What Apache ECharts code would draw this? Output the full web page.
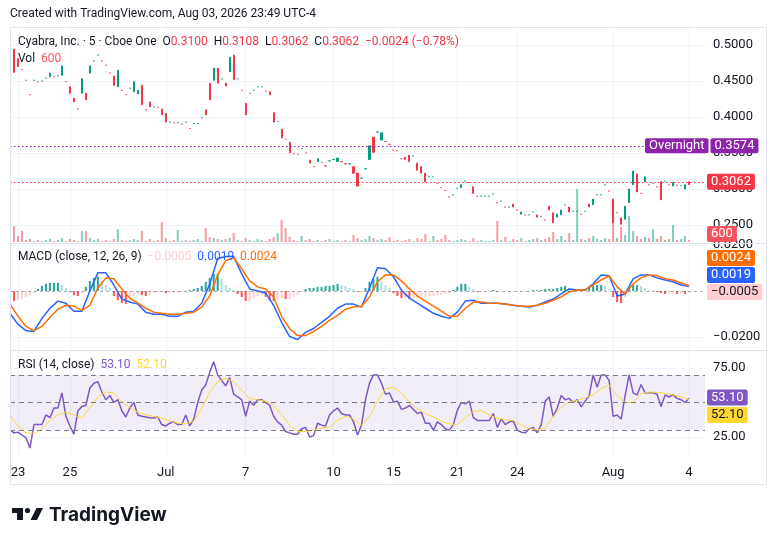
<!DOCTYPE html>
<html><head><meta charset="utf-8">
<script src="https://cdn.jsdelivr.net/npm/echarts@6/dist/echarts.min.js"></script>
<style>html,body{margin:0;padding:0;background:#fff}#c{width:776px;height:546px}</style>
</head><body><div id="c"></div>
<script>
// ---------- data ----------
const dateLabels = ['23','25','Jul','7','10','15','21','24','Aug','4'];
const dateBars   = [2,15,39,59,81,96,112,127,151,170];   // bar index where each date label sits

// 5-minute bars (bar 1..170)
const opens = [
 .494,.481,.466,.451,.431,.451,.449,.450,.454,.456,
 .456,.457,.458,.449,.442,.426,.411,.433,.433,.461,
 .478,.486,.478,.472,.461,.457,.442,.437,.431,.440,
 .435,.432,.444,.410,.421,.414,.413,.411,.405,.393,
 .392,.392,.390,.393,.384,.391,.391,.399,.410,.447,
 .451,.468,.453,.447,.463,.486,.453,.437,.419,.433,
 .437,.442,.442,.436,.435,.406,.394,.383,.369,.365,
 .349,.348,.356,.350,.340,.331,.338,.337,.332,.339,
 .341,.338,.338,.335,.335,.331,.322,.315,.328,.341,
 .372,.379,.368,.366,.362,.354,.353,.342,.344,.347,
 .346,.336,.331,.322,.317,.317,.308,.302,.298,.289,
 .292,.301,.302,.311,.309,.303,.290,.290,.290,.290,
 .293,.281,.283,.275,.275,.279,.271,.265,.264,.264,
 .268,.264,.262,.257,.276,.267,.261,.264,.278,.275,
 .269,.269,.265,.269,.279,.278,.292,.292,.306,.297,
 .286,.267,.260,.258,.281,.306,.321,.294,.310,.306,
 .308,.303,.310,.311,.306,.304,.305,.305,.300,.3100];
const closes = [
 .462,.470,.466,.451,.431,.451,.449,.450,.454,.461,
 .456,.457,.471,.449,.433,.421,.411,.453,.424,.471,
 .478,.486,.478,.472,.461,.444,.465,.437,.431,.440,
 .449,.437,.417,.410,.414,.414,.413,.403,.393,.393,
 .392,.392,.390,.393,.384,.391,.391,.399,.403,.424,
 .468,.447,.453,.443,.483,.452,.453,.437,.403,.433,
 .437,.442,.442,.436,.431,.393,.394,.371,.369,.350,
 .349,.348,.356,.350,.336,.331,.342,.337,.332,.339,
 .341,.343,.338,.335,.335,.322,.304,.315,.328,.360,
 .351,.379,.378,.366,.362,.354,.353,.342,.341,.338,
 .346,.326,.322,.310,.317,.317,.308,.302,.298,.289,
 .292,.301,.306,.311,.309,.294,.290,.290,.290,.290,
 .293,.281,.283,.275,.275,.275,.271,.268,.264,.264,
 .268,.261,.262,.257,.271,.253,.265,.271,.278,.268,
 .269,.269,.265,.269,.275,.286,.292,.292,.306,.297,
 .253,.267,.251,.276,.300,.325,.296,.294,.317,.306,
 .308,.303,.285,.311,.306,.309,.305,.305,.306,.3062];
const volumes = [
 4800,1800,3300,600,900,300,600,300,600,900,
 300,600,1200,300,900,600,300,3300,3300,1200,
 600,900,300,600,300,900,3900,600,300,600,
 900,600,3300,300,900,300,600,6000,1200,300,
 600,3600,300,600,300,600,900,300,4200,1500,
 1200,900,600,900,1200,2700,600,300,1200,600,
 300,900,600,300,900,1500,2700,6600,4200,1500,
 600,300,1800,600,900,300,600,300,600,900,
 300,600,300,600,300,2100,1200,600,900,1800,
 1200,600,900,600,1500,300,600,300,600,900,
 300,1200,900,2400,300,1800,600,900,2100,600,
 300,600,900,600,300,1200,300,600,300,300,
 600,6300,600,1500,300,900,600,1200,300,600,
 900,1200,600,900,1500,3000,900,1800,600,2700,
 600,15900,900,600,1200,1800,900,600,1200,900,
 12900,1200,4500,2100,7800,3300,1800,900,1500,1200,
 3900,900,1800,600,900,5100,600,900,1800,600];

// MACD (12,26,9): lines read every 2nd bar (bar 0,2,4..170), histogram per bar (1..170)
const macdLine = [
 -.0097,-.0145,-.0172,-.0176,-.0119,-.0075,-.0044,-.0053,-.0088,-.0088,
 0,.0079,.0079,.0026,-.0035,-.0048,-.0057,-.0092,-.0101,-.0101,
 -.011,-.011,-.0092,-.0088,-.0053,.0031,.0141,.015,.015,.0075,
 .0009,0,-.0009,-.0062,-.0136,-.0198,-.0211,-.018,-.0163,-.0136,
 -.011,-.0075,-.0057,-.0057,-.007,.0013,.0101,.0097,.0062,.0004,
 -.0031,-.0053,-.0075,-.0097,-.011,-.0119,-.0092,-.0044,-.004,-.0053,
 -.0053,-.0053,-.0057,-.0062,-.0066,-.007,-.0062,-.0048,-.0035,-.0013,
 .0009,.0004,.0004,.0031,.007,.0066,-.0022,-.0013,.0053,.007,
 .007,.0057,.0048,.004,.0026,.0019];
const signalLine = [
 -.0057,-.011,-.0154,-.0172,-.0154,-.0114,-.0079,-.0062,-.0066,-.0084,
 -.0062,.0013,.0057,.0053,.0009,-.0031,-.0053,-.0075,-.0092,-.0097,
 -.0101,-.0101,-.0097,-.0092,-.007,-.0022,.007,.0132,.0145,.0097,
 .0044,.0018,.0009,-.0026,-.011,-.0163,-.0194,-.0194,-.0176,-.0154,
 -.0128,-.0106,-.0079,-.007,-.0066,-.0026,.004,.007,.007,.0044,
 .0009,-.0022,-.0044,-.0066,-.0088,-.011,-.011,-.0075,-.0048,-.0048,
 -.0053,-.0053,-.0057,-.0062,-.0066,-.0066,-.0062,-.0053,-.004,-.0026,
 -.0004,.0004,.0004,.0026,.0048,.0066,.0018,-.0013,.0031,.0057,
 .007,.0066,.0053,.0048,.0035,.0024];
const macdHist = [
 -.0044,-.004,-.0035,-.0026,-.0018,-.0009,.0009,.0022,.0031,.0035,
 .0035,.0035,.0026,.0013,-.0004,-.0018,-.0022,-.0009,.0018,.0044,
 .0057,.0062,.0044,.0026,.0013,-.0022,-.004,-.0053,-.0057,-.004,
 -.0022,-.0013,-.0018,-.0022,-.0018,-.0009,-.0004,-.0004,-.0009,-.0009,
 -.0009,-.0009,-.0004,.0001,.0004,.0009,.0013,.0022,.004,.0057,
 .0075,.0075,.0053,.0026,.0013,.0004,-.0013,-.0026,-.0044,-.0044,
 -.0031,-.0022,-.0018,-.0026,-.004,-.0044,-.0035,-.0031,-.0035,-.0035,
 -.0026,-.0018,-.0004,.0009,.0013,.0013,.0018,.0018,.0022,.0022,
 .0026,.0031,.0026,.0022,.0013,.0009,-.0004,-.0004,.0013,.004,
 .0053,.0062,.0044,.0026,.0013,-.0009,-.0022,-.0031,-.0031,-.0035,
 -.0031,-.0031,-.0026,-.0026,-.0022,-.0022,-.0018,-.0018,-.0013,-.0009,
 .0004,.0018,.0031,.0031,.0018,.0009,-.0004,-.0004,-.0004,.0001,
 .0004,-.0004,-.0004,.0001,-.0004,-.0004,-.0004,-.0004,-.0004,-.0004,
 .0004,.0004,.0004,.0009,.0009,.0009,.0013,.0018,.0022,.0013,
 .0004,.0001,.0004,.0009,.0013,.0022,.0026,.0026,.0022,.0009,
 -.0026,-.0048,-.0053,-.0026,.0009,.0026,.0026,.0022,.0013,.0004,
 .0001,-.0004,-.0009,-.0013,-.0009,-.0009,-.0013,-.0009,-.0013,-.0005];

// RSI(14) per bar 0..170, its moving average every 2nd bar
const rsiLine = [
 30,28,28.5,26.4,24.5,17,34,34,34,41,
 39,46,46,57,40,33,27,44,47,48,
 60.5,64,65,57.6,52,55,50,52,44,39.5,
 46,50,41,40,39.5,39,38.7,39.5,34,33,
 35,36,34,34,41,33,38,50,59,62.7,
 72,79.5,70,66,62,68,56,54,52,40,
 51,48,52,52,50,48,40,36,33.6,29,
 28,27,27,31,32,25,26,35,33.6,33,
 41,44,46,42,41,41,36,26.4,33.6,52,
 64,70,70,64,56,57,50.4,51,45,46,
 48,45,42,43,35,35,30,36,34,31,
 30,34,44.5,50,49,51,39,37,37,37,
 37,42,32,38,34,36,36.5,30,28.5,28,
 31,32,28,34,51,54,40,46,55,52,
 53,50,52,47,51,55,70,61,70,70,
 66,40,41,38,55,70,57,55.5,63,57,
 57,57,56,47,55.5,54,55.5,53,52,50,
 53.1];
const rsiMa = [
 41,33,28,27.5,31,37,41,43,41,38.7,
 46,54,57.6,57,50.4,46.5,43,41,40,38.5,
 36.5,35,34.5,36.5,46,57.6,65,67.5,65,59,
 53,52,51,48,41,33.6,29,28.8,30,31.5,
 32.2,37,40,38,33.5,40,51,60,61,57,
 50,45.5,42,39.5,36.5,34.5,34,39,43.5,44,
 41,38.5,37.5,37,33.5,31,30,31.5,40,46.5,
 50.5,51.5,53.5,55.5,60,62.7,55,50,50,56.5,
 57.5,57.5,56.5,55.5,54,52.1];

const lastBar = {o:0.3100, h:0.3108, l:0.3062, c:0.3062};
const change = -0.0024, changePct = -0.78;
const overnightPrice = 0.3574;
const lastVolume = 600;

// ---------- chart ----------
const FONT = 'Roboto';
const UP = '#089981', DOWN = '#F23645';
const NCAT = 175;
const cats = Array.from({length: NCAT}, (_, i) => String(i));
const labelAt = {};
dateBars.forEach((b, k) => labelAt[b] = dateLabels[k]);
const isDate = (i) => labelAt[i] !== undefined;
const m = (v) => (v < 0 ? '\u2212' : '') + Math.abs(v).toFixed(4);

function sign(k) {
  const o = opens[k], c = closes[k];
  if (c > o) return 1;
  if (c < o) return -1;
  return k > 0 && closes[k - 1] <= c ? 1 : -1;
}
const candleData = ['-'].concat(opens.map((o, k) => [o, closes[k], Math.min(o, closes[k]), Math.max(o, closes[k])]));
const volData = ['-'].concat(volumes.map((v, k) => ({value: v, itemStyle: {color: sign(k) > 0 ? 'rgba(8,153,129,0.5)' : 'rgba(242,54,69,0.5)'}})));
const histData = ['-'].concat(macdHist.map((v, k) => {
  const p = k > 0 ? macdHist[k - 1] : 0;
  const col = v >= 0 ? (v >= p ? '#26A69A' : '#B2DFDB') : (v < p ? '#FF5252' : '#FFCDD2');
  return {value: v, itemStyle: {color: col}};
}));
const every2 = (arr) => arr.map((v, k) => [String(2 * k), v]);

function xa(gi, extra) {
  return Object.assign({type: 'category', gridIndex: gi, data: cats, boundaryGap: false, show: false}, extra || {});
}
const gridL = 10, gridR = 71;

const option = {
  animation: false,
  textStyle: {fontFamily: FONT},
  grid: [
    {left: gridL, right: gridR, top: 27, bottom: 88},
    {left: gridL, right: gridR, top: 45, bottom: 321},
    {left: gridL, right: gridR, top: 142, bottom: 304},
    {left: gridL, right: gridR, top: 245, bottom: 209},
    {left: gridL, right: gridR, top: 368, bottom: 109}
  ],
  xAxis: [
    xa(0, {show: true, axisLine: {show: false}, axisTick: {show: false},
      axisLabel: {interval: (i) => isDate(i), formatter: (v, i) => labelAt[i] || '', color: '#131722', fontSize: 13, margin: 8, fontFamily: FONT},
      splitLine: {show: true, interval: (i) => isDate(i), lineStyle: {color: '#f0f3fa', width: 1}}}),
    xa(1), xa(2), xa(3), xa(4)
  ],
  yAxis: [
    {gridIndex: 0, show: false},
    {gridIndex: 1, type: 'value', position: 'right', min: 0.25, max: 0.5, interval: 0.05,
      axisLine: {show: false}, axisTick: {show: false},
      axisLabel: {formatter: (v) => v.toFixed(4), color: '#131722', fontSize: 13, margin: 8, fontFamily: FONT},
      splitLine: {lineStyle: {color: '#f0f3fa'}}},
    {gridIndex: 2, type: 'value', show: false, min: 0, max: 30000},
    {gridIndex: 3, type: 'value', position: 'right', min: -0.02, max: 0.02, interval: 0.02,
      axisLine: {show: false}, axisTick: {show: false},
      axisLabel: {formatter: (v) => Math.abs(v) < 1e-9 ? '' : m(v), color: '#131722', fontSize: 13, margin: 8, fontFamily: FONT},
      splitLine: {lineStyle: {color: ['#f0f3fa', 'rgba(0,0,0,0)', '#f0f3fa']}}},
    {gridIndex: 4, type: 'value', position: 'right', min: 25, max: 75, interval: 25,
      axisLine: {show: false}, axisTick: {show: false},
      axisLabel: {formatter: (v) => v === 50 ? '' : v.toFixed(2), color: '#131722', fontSize: 13, margin: 8, fontFamily: FONT},
      splitLine: {lineStyle: {color: ['#f0f3fa', 'rgba(0,0,0,0)', '#f0f3fa']}}}
  ],
  series: [
    {type: 'candlestick', xAxisIndex: 1, yAxisIndex: 1, data: candleData, barWidth: 1.6,
      itemStyle: {color: UP, color0: DOWN, borderColor: UP, borderColor0: DOWN, borderWidth: 1},
      markLine: {silent: true, symbol: ['none', 'none'], animation: false,
        lineStyle: {type: [1.5, 2.5], width: 1.2},
        data: [
          {yAxis: overnightPrice, lineStyle: {color: '#8E24AA', type: [1.5, 2.5], width: 1.2},
            label: {show: true, position: 'end', distance: 2, offset: [-62, 0],
              formatter: () => '{n|Overnight}{g| }{v|' + m(overnightPrice) + '}',
              rich: {
                n: {backgroundColor: '#8E24AA', color: '#fff', padding: [1, 4, 1, 4], fontSize: 13, lineHeight: 14, fontFamily: FONT, borderRadius: 2},
                g: {width: 2, fontSize: 13},
                v: {backgroundColor: '#8E24AA', color: '#fff', padding: [1, 4, 1, 4], fontSize: 13, lineHeight: 14, fontFamily: FONT, borderRadius: 2}
              }}},
          {yAxis: lastBar.c, lineStyle: {color: DOWN, type: [1.5, 2.5], width: 1.2},
            label: {show: true, position: 'end', distance: 2, formatter: () => m(lastBar.c),
              backgroundColor: DOWN, color: '#fff', padding: [1, 4, 1, 4], fontSize: 13, lineHeight: 14, fontFamily: FONT, borderRadius: 2}}
        ]}},
    {type: 'bar', xAxisIndex: 2, yAxisIndex: 2, data: volData, barWidth: 2},
    {type: 'bar', xAxisIndex: 3, yAxisIndex: 3, data: histData, barWidth: 2,
      markLine: {silent: true, symbol: ['none', 'none'], label: {show: false},
        lineStyle: {color: 'rgba(120,123,134,0.6)', type: [3, 3], width: 1}, data: [{yAxis: 0}]}},
    {type: 'line', xAxisIndex: 3, yAxisIndex: 3, data: every2(macdLine), showSymbol: false, clip: false,
      lineStyle: {color: '#2962FF', width: 1.5}},
    {type: 'line', xAxisIndex: 3, yAxisIndex: 3, data: every2(signalLine), showSymbol: false, clip: false,
      lineStyle: {color: '#FF6D00', width: 1.5}},
    {type: 'line', xAxisIndex: 4, yAxisIndex: 4, data: rsiLine, showSymbol: false, clip: false,
      lineStyle: {color: '#7E57C2', width: 1.5},
      markArea: {silent: true, itemStyle: {color: 'rgba(126,87,194,0.1)'}, data: [[{yAxis: 30}, {yAxis: 70}]]},
      markLine: {silent: true, symbol: ['none', 'none'], label: {show: false},
        lineStyle: {color: '#787B86', type: [5, 4], width: 1},
        data: [{yAxis: 70}, {yAxis: 50}, {yAxis: 30}]}},
    {type: 'line', xAxisIndex: 4, yAxisIndex: 4, data: every2(rsiMa), showSymbol: false, clip: false,
      lineStyle: {color: '#FDD835', width: 1}}
  ],
  graphic: []
};

// ---------- frame, legends, badges ----------
const D = '#131722';
const LEG = '12px ' + FONT;
function txt(x, y, text, rich, extra) {
  return Object.assign({type: 'text', z: 100, x, y, style: {text, fill: D, font: LEG, verticalAlign: 'middle', align: 'left', rich: rich || {}}}, extra || {});
}
function badge(x, y, text, bg, fg) {
  return {type: 'text', z: 110, x, y, style: {text, fill: fg || '#fff', backgroundColor: bg, padding: [1, 4, 1, 4], lineHeight: 14,
    borderRadius: 2, font: '13px ' + FONT, verticalAlign: 'middle', align: 'left'}};
}
const G = option.graphic;
G.push({type: 'rect', z: 90, shape: {x: 10.5, y: 27.5, width: 756, height: 457}, style: {fill: 'rgba(0,0,0,0)', stroke: '#e0e3eb', lineWidth: 1}});
G.push({type: 'line', z: 90, shape: {x1: 10, y1: 243.5, x2: 767, y2: 243.5}, style: {stroke: '#e0e3eb', lineWidth: 1}});
G.push({type: 'line', z: 90, shape: {x1: 10, y1: 350.5, x2: 767, y2: 350.5}, style: {stroke: '#e0e3eb', lineWidth: 1}});
G.push(txt(10, 14, 'Created with TradingView.com, Aug 03, 2026 23:49 UTC-4'));
const R = {d: {fill: D}, r: {fill: '#F23645'}};
G.push(txt(18, 42, '{d|Cyabra, Inc. · 5 · Cboe One}  {d|O}{r|' + lastBar.o.toFixed(4) + '}  {d|H}{r|' + lastBar.h.toFixed(4) +
  '}  {d|L}{r|' + lastBar.l.toFixed(4) + '}  {d|C}{r|' + lastBar.c.toFixed(4) + '}  {r|' + m(change) + ' (' + '\u2212' + Math.abs(changePct).toFixed(2) + '%)}', R));
G.push(txt(18, 59, '{d|Vol}  {v|' + lastVolume + '}', {d: {fill: D}, v: {fill: '#F7525F'}}));
const lastMacd = macdLine[macdLine.length - 1], lastSig = signalLine[signalLine.length - 1], lastHist = macdHist[macdHist.length - 1];
G.push(txt(18, 257, '{d|MACD (close, 12, 26, 9)}  {h|' + m(lastHist) + '}  {b|' + m(lastMacd) + '}  {o|' + m(lastSig) + '}',
  {d: {fill: D}, h: {fill: '#FFCDD2'}, b: {fill: '#2962FF'}, o: {fill: '#FF6D00'}}));
const lastRsi = rsiLine[rsiLine.length - 1], lastRsiMa = rsiMa[rsiMa.length - 1];
G.push(txt(18, 365, '{d|RSI (14, close)}  {p|' + lastRsi.toFixed(2) + '}  {y|' + lastRsiMa.toFixed(2) + '}',
  {d: {fill: D}, p: {fill: '#7E57C2'}, y: {fill: '#FDD835'}}));

G.push(badge(707, 234, String(lastVolume), '#F7525F'));
G.push(badge(707, 258, m(lastSig), '#FF6D00'));
G.push(badge(707, 275, m(lastMacd), '#2962FF'));
G.push(badge(707, 292, m(lastHist), '#FFCDD2', D));
G.push(badge(707, 397.5, lastRsi.toFixed(2), '#7E57C2'));
G.push(badge(707, 415, lastRsiMa.toFixed(2), '#FDD835', D));

// TradingView logo
G.push({type: 'rect', z: 100, shape: {x: 12, y: 508, width: 11, height: 5}, style: {fill: '#131722'}});
G.push({type: 'rect', z: 100, shape: {x: 17, y: 508, width: 6, height: 12}, style: {fill: '#131722'}});
G.push({type: 'circle', z: 100, shape: {cx: 27.5, cy: 510.5, r: 2.6}, style: {fill: '#131722'}});
G.push({type: 'polygon', z: 100, shape: {points: [[30.5, 520], [36.5, 508], [43, 508], [37, 520]]}, style: {fill: '#131722'}});
G.push({type: 'text', z: 100, x: 49, y: 515, style: {text: 'TradingView', fill: '#131722', font: 'bold 19px Inter', verticalAlign: 'middle'}});

const chart = echarts.init(document.getElementById('c'), null, {renderer: 'canvas'});
chart.setOption(option);
</script>
</body></html>
